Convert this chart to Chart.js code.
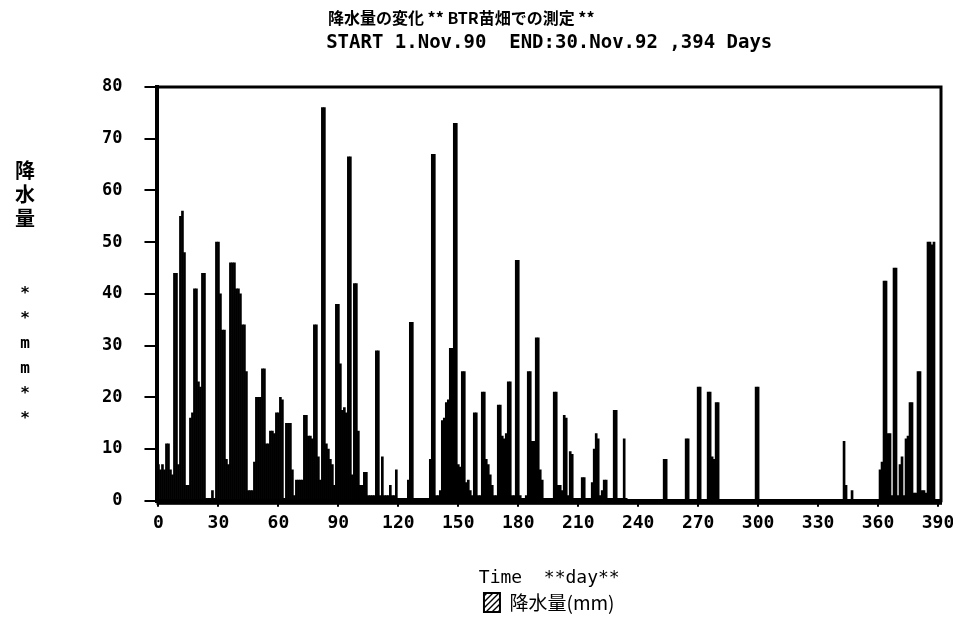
<!DOCTYPE html>
<html>
<head>
<meta charset="utf-8">
<script src="https://cdn.jsdelivr.net/npm/chart.js@4.4.1/dist/chart.umd.min.js"></script>
<style>
  html, body { margin: 0; padding: 0; background: #fff; }
</style>
</head>
<body>
<canvas id="chart1" width="953" height="626"></canvas>
<script>
const titleText = '降水量の変化 ** BTR苗畑での測定 **';
const subtitleText = 'START 1.Nov.90  END:30.Nov.92 ,394 Days';
const xTitleText = 'Time  **day**';
const yTitleChars = ['降', '水', '量'];
const yUnitChars = ['*', '*', 'm', 'm', '*', '*'];
const seriesLabel = '降水量(mm)';

const dayCount = 392;
const xTickDays = [0, 30, 60, 90, 120, 150, 180, 210, 240, 270, 300, 330, 360, 390];
const yTickValues = [0, 10, 20, 30, 40, 50, 60, 70, 80];

// daily rain, days 0-234 (mm)
const rainDays0to234 = [
  7, 6, 7, 6, 11, 11, 6, 5, 44, 44,
  7, 55, 56, 48, 3, 3, 16, 17, 41, 41,
  23, 22, 44, 44, 0.5, 0.5, 0.5, 2, 0.5, 50,
  50, 40, 33, 33, 8, 7, 46, 46, 46, 41,
  41, 40, 34, 34, 25, 2, 2, 2, 7.5, 20,
  20, 20, 25.5, 25.5, 11, 11, 13.5, 13.5, 13, 17,
  17, 20, 19.5, 0.5, 15, 15, 15, 6, 1, 4,
  4, 4, 4, 16.5, 16.5, 12.5, 12.5, 12, 34, 34,
  8.5, 4, 76, 76, 11, 10, 8, 7, 3, 38,
  38, 26.5, 17.5, 18, 17, 66.5, 66.5, 5, 42, 42,
  13.5, 3, 3, 5.5, 5.5, 1, 1, 1, 1, 29,
  29, 1, 8.5, 1, 1, 1, 3, 1, 1, 6,
  0.5, 0.5, 0.5, 0.5, 0.5, 4, 34.5, 34.5, 0.5, 0.5,
  0.5, 0.5, 0.5, 0.5, 0.5, 0.5, 8, 67, 67, 1,
  1, 2, 15.5, 16, 19, 19.5, 29.5, 29.5, 73, 73,
  7, 6.5, 25, 25, 3.5, 4, 2, 1, 17, 17,
  1, 1, 21, 21, 8, 7, 5, 3, 1, 1,
  18.5, 18.5, 12.5, 12, 13, 23, 23, 1, 1, 46.5,
  46.5, 1, 0.5, 0.5, 1, 25, 25, 11.5, 11.5, 31.5,
  31.5, 6, 4, 0.5, 0.5, 0.5, 0.5, 0.5, 21, 21,
  3, 3, 2, 16.5, 16, 1, 9.5, 9, 0.5, 0.5,
  0.5, 0.5, 4.5, 4.5, 0.5, 0.5, 0.5, 3.5, 10, 13,
  12, 1, 2, 4, 4, 0.5, 0.5, 0.5, 17.5, 17.5,
  0.5, 0.5, 0.5, 12, 0.5
];

// later rainy days only (others are 0)
const laterRainDay = [
  253, 254, 264, 265, 270, 271, 275, 276, 277, 278, 279, 280, 299, 300,
  343, 344, 347,
  361, 362, 363, 364, 365, 366, 367, 368, 369, 370, 371, 372, 373, 374,
  375, 376, 377, 378, 379, 380, 381, 382, 383, 384, 385, 386, 387, 388
];
const laterRainMm = [
  8, 8, 12, 12, 22, 22, 21, 21, 8.5, 8, 19, 19, 22, 22,
  11.5, 3, 2,
  6, 7.5, 42.5, 42.5, 13, 13, 1, 45, 45, 1, 7, 8.5, 1, 12,
  12.5, 19, 19, 1.5, 1.5, 25, 25, 2, 2, 1.5, 50, 50, 49.5, 50
];

const labels = [];
for (let d = 0; d < dayCount; d++) labels.push(d);
const rain = labels.map(d => (d < rainDays0to234.length ? rainDays0to234[d] : 0));
laterRainDay.forEach((d, i) => { rain[d] = laterRainMm[i]; });

const monoFont = "'DejaVu Sans Mono', 'Noto Sans CJK JP', monospace";
const cjkFont = "'Noto Sans CJK JP', 'DejaVu Sans Mono', sans-serif";

function makeHatch() {
  const c = document.createElement('canvas');
  c.width = 6; c.height = 6;
  const g = c.getContext('2d');
  g.fillStyle = '#fff';
  g.fillRect(0, 0, 6, 6);
  g.strokeStyle = '#000';
  g.lineWidth = 1.4;
  g.beginPath();
  g.moveTo(-1, 7); g.lineTo(7, -1);
  g.moveTo(-4, 4); g.lineTo(4, -4);
  g.moveTo(2, 10); g.lineTo(10, 2);
  g.stroke();
  return g.createPattern(c, 'repeat');
}

// thick frame round the plot
const plotFrame = {
  id: 'plotFrame',
  afterDatasetsDraw(chart) {
    const { ctx, chartArea: a } = chart;
    ctx.save();
    ctx.strokeStyle = '#000';
    ctx.lineWidth = 3;
    ctx.strokeRect(a.left, a.top, a.right - a.left, a.bottom - a.top);
    ctx.fillStyle = '#000';
    ctx.fillRect(a.left - 1, a.bottom - 1, a.right - a.left + 2, 5);
    ctx.restore();
  }
};

// stacked vertical y-axis title
const yStackTitle = {
  id: 'yStackTitle',
  afterDraw(chart) {
    const { ctx, chartArea: a } = chart;
    ctx.save();
    ctx.fillStyle = '#000';
    ctx.textAlign = 'center';
    ctx.textBaseline = 'middle';
    ctx.font = 'bold 20px ' + cjkFont;
    yTitleChars.forEach((ch, i) => ctx.fillText(ch, 25, a.top + 83 + i * 24));
    ctx.font = 'bold 16px ' + monoFont;
    yUnitChars.forEach((ch, i) => ctx.fillText(ch, 25, a.top + 207 + i * 25));
    ctx.restore();
  }
};

const hatch = makeHatch();
const ctx1 = document.getElementById('chart1').getContext('2d');

const chart1 = new Chart(ctx1, {
  type: 'bar',
  data: {
    labels: labels,
    datasets: [{
      label: seriesLabel,
      data: rain,
      backgroundColor: '#000',
      borderWidth: 0,
      barPercentage: 1,
      categoryPercentage: 1
    }]
  },
  options: {
    responsive: false,
    animation: false,
    layout: { padding: { left: 80, right: 12, top: 0, bottom: 4 } },
    scales: {
      x: {
        afterFit: function (scale) {
          scale.paddingRight = 0;
        },
        ticks: {
          autoSkip: false,
          maxRotation: 0,
          padding: 6,
          color: '#000',
          font: { family: monoFont, size: 18, weight: 'bold' },
          callback: function (value, index) {
            return xTickDays.includes(index) ? String(labels[index]) : null;
          }
        },
        grid: { offset: false, drawOnChartArea: false, drawTicks: true, tickLength: 6, color: '#000', lineWidth: 2 },
        border: { display: true, color: '#000', width: 4 },
        title: {
          display: true,
          text: xTitleText,
          color: '#000',
          font: { family: monoFont, size: 18 },
          padding: { top: 27, bottom: 0 }
        }
      },
      y: {
        min: 0,
        max: 80,
        afterBuildTicks: function (scale) {
          scale.ticks = yTickValues.map(v => ({ value: v }));
        },
        ticks: {
          padding: 22,
          color: '#000',
          font: { family: monoFont, size: 17, weight: 'bold' }
        },
        grid: { drawOnChartArea: false, drawTicks: true, tickLength: 13, color: '#000', lineWidth: 2 },
        border: { display: true, color: '#000', width: 4 }
      }
    },
    plugins: {
      title: {
        display: true,
        fullSize: false,
        text: titleText + '\u3000'.repeat(11),
        color: '#000',
        font: { family: cjkFont, size: 16, weight: 'bold' },
        padding: { top: 8, bottom: 4 }
      },
      subtitle: {
        display: true,
        fullSize: false,
        text: subtitleText,
        color: '#000',
        font: { family: monoFont, size: 19, weight: 'bold' },
        padding: { top: 0, bottom: 33 }
      },
      legend: {
        position: 'bottom',
        fullSize: false,
        labels: {
          boxWidth: 16,
          boxHeight: 19,
          padding: 4,
          color: '#000',
          font: { family: cjkFont, size: 19 },
          generateLabels: function () {
            return [{
              text: seriesLabel,
              fillStyle: hatch,
              strokeStyle: '#000',
              lineWidth: 2,
              hidden: false,
              datasetIndex: 0
            }];
          }
        }
      },
      tooltip: { enabled: false }
    }
  },
  plugins: [plotFrame, yStackTitle]
});
</script>
</body>
</html>
